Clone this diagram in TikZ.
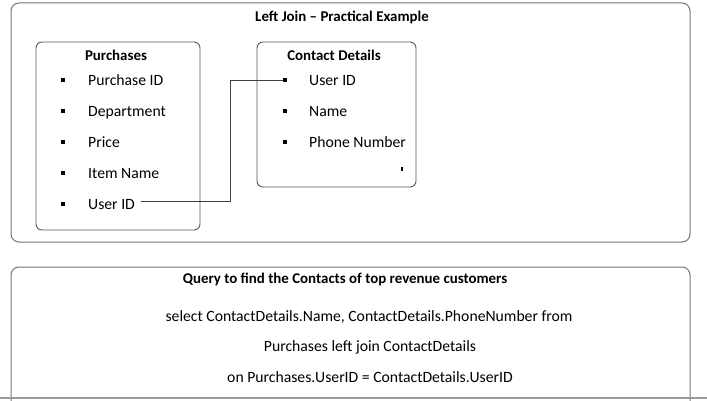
\documentclass[tikz,border=0pt]{standalone}
\usepackage{fontspec}
\setmainfont{Carlito}
\begin{document}
\begin{tikzpicture}[x=1pt,y=-1pt,
  panel/.style={draw=black!55,line width=1pt,rounded corners=8pt},
  tbl/.style={draw=black!65,line width=0.9pt,rounded corners=6pt},
  ttl/.style={font=\fontsize{14.9}{17}\selectfont\bfseries,inner sep=0pt},
  item/.style={font=\fontsize{15.7}{18}\selectfont,anchor=base west,inner sep=0pt},
  bul/.style={fill=black,minimum size=4.5pt,inner sep=0pt},
  qry/.style={font=\fontsize{15.7}{18}\selectfont,inner sep=0pt},
  link/.style={draw=black!75,line width=0.6pt}]
\useasboundingbox (0,0) rectangle (707,401);
% outer panels
\draw[panel] (11,3) rectangle (690,242);
\draw[panel] (11,401) -- (11,267) -- (690,267) -- (690,401);
\draw[draw=black!40,line width=1.5pt] (0,398) -- (707,398);
\node[ttl] (title) at (342,17) {Left Join – Practical Example};
% Purchases table
\draw[tbl] (36,42) rectangle (200,230);
\node[ttl] (ph) at (116,55) {Purchases};
\foreach \n/\t/\y in {p1/Purchase ID/80,p2/Department/111,p3/Price/142,p4/Item Name/173,p5/User ID/204}{
  \node[bul] (b\n) at (63,\y) {};
  \node[item] (\n) at (88,\y+5.5) {\t};
}
% Contact Details table
\draw[tbl] (257,42) rectangle (416,187);
\node[ttl] (ch) at (334,55) {Contact Details};
\foreach \n/\t/\y in {c1/User ID/80,c2/Name/111,c3/Phone Number/142}{
  \node[bul] (b\n) at (285,\y) {};
  \node[item] (\n) at (309,\y+5.5) {\t};
}
\node[fill=black,minimum width=1.5pt,minimum height=4pt,inner sep=0pt] (tick) at (402,169) {};
% connector
\coordinate (j) at (230,0);
\draw[link] (bp5) ++(78pt,2.5pt) coordinate (s) -- (j |- s) -- (j |- bc1) -- (bc1);
% Query panel
\node[ttl] (q) at (345,279) {Query to find the Contacts of top revenue customers};
\node[qry] (q1) at (369,317) {select ContactDetails.Name, ContactDetails.PhoneNumber from};
\node[qry] (q2) at (370,347) {Purchases left join ContactDetails};
\node[qry] (q3) at (370,377) {on Purchases.UserID = ContactDetails.UserID};
\end{tikzpicture}
\end{document}
